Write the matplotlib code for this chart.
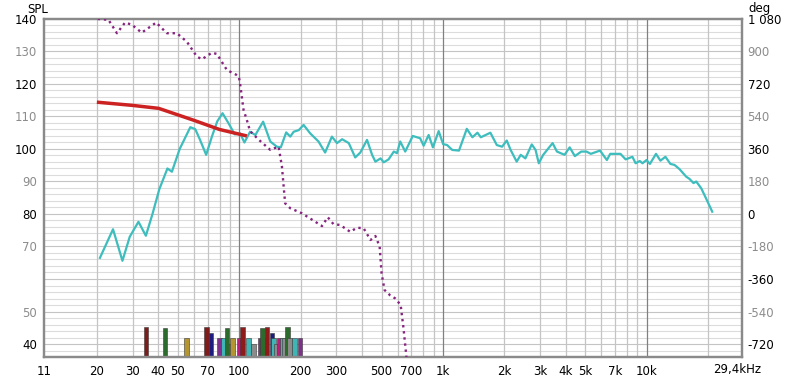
import matplotlib
matplotlib.use("Agg")
import matplotlib.pyplot as plt
import numpy as np

# ---- data ----
spl_freq = [20.7, 24.0, 26.7, 29.0, 32.0, 34.8, 37.5, 40.5, 44.4, 46.7, 51.0, 57.5, 60.8, 64.0,
            68.8, 73.4, 78.0, 82.8, 88.6, 95.0, 101, 106, 113, 120, 131, 142, 153, 160, 170, 178,
            185, 196, 207, 223, 245, 264, 285, 302, 320, 345, 371, 393, 424, 449, 466, 494, 512,
            541, 574, 595, 617, 653, 711, 773, 804, 851, 893, 953, 1002, 1049, 1111, 1199, 1310,
            1395, 1477, 1535, 1710, 1839, 1952, 2058, 2150, 2302, 2410, 2540, 2730, 2850, 2955,
            3107, 3455, 3630, 3954, 4191, 4443, 4778, 5067, 5320, 5905, 6382, 6627, 7440, 7889,
            8518, 8831, 9251, 9546, 9987, 10380, 11120, 11690, 12370, 13090, 13700, 14510,
            15630, 16230, 17000, 17520, 18550, 19750, 21000]
spl_db = [66.5, 75.3, 65.6, 73.0, 77.6, 73.3, 80.0, 87.6, 94.0, 93.0, 100.0, 106.7, 106.1, 103.0,
          98.2, 103.8, 108.5, 111.0, 107.9, 104.5, 104.8, 102.0, 105.3, 104.3, 108.4, 102.3,
          100.7, 100.5, 105.1, 103.8, 105.3, 105.8, 107.4, 104.8, 102.3, 98.9, 103.8, 101.8,
          103.0, 101.8, 97.4, 98.9, 102.8, 98.2, 96.1, 97.1, 95.9, 96.8, 99.2, 98.7, 102.3, 99.2,
          104.0, 103.3, 101.0, 104.3, 100.5, 105.5, 101.5, 101.2, 99.7, 99.5, 106.2, 103.6, 105.0,
          103.6, 105.0, 101.2, 100.7, 102.6, 99.7, 96.1, 98.2, 97.1, 101.4, 99.7, 95.6, 98.2,
          101.8, 99.2, 98.2, 100.5, 97.8, 99.2, 99.2, 98.5, 99.5, 96.6, 98.5, 98.5, 96.8, 97.6,
          95.6, 96.3, 95.6, 96.6, 95.4, 98.5, 96.4, 97.6, 95.4, 95.1, 93.8, 91.5, 90.8, 89.5, 90.0,
          87.9, 84.3, 80.7]

red_freq = [20.0, 30.0, 40.2, 60.0, 80.0, 109.0]
red_db = [114.4, 113.4, 112.5, 108.8, 106.0, 104.0]

phase_freq = [20.2, 22.8, 25.1, 27.5, 29.7, 33.2, 39.1, 44.1, 49.4, 55.3, 62.0, 65.6, 73.4, 77.7,
              87.0, 97.0, 99.5, 101, 105, 109, 113, 125, 142, 156, 162, 168, 178, 203, 228, 255,
              272, 290, 313, 351, 378, 408, 441, 466, 489, 500, 517, 550, 584, 620, 640, 662]
phase_deg = [1080, 1075, 1001, 1060, 1048, 1004, 1060, 1001, 1001, 954, 871, 857, 893, 886,
             797, 770, 761, 720, 576, 520, 459, 410, 355, 373, 263, 59, 32, 4, -32, -67,
             -18, -56, -61, -99, -76, -79, -144, -122, -180, -330, -421, -450, -468, -504, -630, -792]

bar_freq = [33.9, 42.0, 53.8, 67.3, 71.0, 78.2, 81.8, 84.7, 89.0, 90.3, 97.4, 101.1, 108.2, 114.5,
            123.0, 131.2, 126.8, 133.7, 140.9, 143.7, 148.6, 153.2, 159.1, 162.8, 168.3, 172.3,
            182.0, 193.2]
bar_top = [45.3, 44.8, 41.8, 45.3, 43.3, 41.8, 41.8, 44.8, 40.0, 41.8, 41.8, 45.3, 41.8, 40.0,
           41.8, 41.8, 44.8, 45.3, 43.3, 41.8, 40.0, 41.8, 41.8, 41.8, 45.3, 41.8, 41.8, 41.8]
bar_color = ["#7e1b1b", "#2b6b2b", "#b5952f", "#7e1b1b", "#1d1d80", "#7f2f8c", "#3fb5b5", "#2b6b2b",
             "#8c8c8c", "#b5952f", "#c2197a", "#8e1a1a", "#3fb5b5", "#8c8c8c", "#7f2f8c", "#b5952f",
             "#2b6b2b", "#8e1a1a", "#1d1d80", "#3fb5b5", "#8c8c8c", "#c2197a", "#3fb5b5", "#8c8c8c",
             "#2b6b2b", "#8c8c8c", "#3fb5b5", "#7f2f8c"]

x_ticks = [11, 20, 30, 40, 50, 70, 100, 200, 300, 500, 700, 1000, 2000, 3000, 4000, 5000, 7000, 10000]
x_labels = ["11", "20", "30", "40", "50", "70", "100", "200", "300", "500", "700", "1k", "2k", "3k",
            "4k", "5k", "7k", "10k"]
y_ticks = [140, 130, 120, 110, 100, 90, 80, 70, 50, 40]
deg_ticks = [1080, 900, 720, 540, 360, 180, 0, -180, -360, -540, -720]
deg_labels = ["1 080", "900", "720", "540", "360", "180", "0", "-180", "-360", "-540", "-720"]

# ---- figure ----
plt.rcParams['font.family'] = ['DejaVu Sans']
fig = plt.figure(figsize=(8.0, 3.82), dpi=100)
ax = fig.add_axes([0.055, 0.0654, 0.8725, 0.885])
ax.set_xscale('log')
ax.set_xlim(11, 29400)
ax.set_ylim(36, 140)

# grid
for y in range(36, 141, 2):
    c = "#c4c4c4" if y % 10 == 0 else "#dcdcdc"
    ax.axhline(y, color=c, lw=0.8, zorder=0)
vl = []
for dec in [10, 100, 1000, 10000]:
    for m in range(1, 10):
        f = dec * m
        if 11 < f < 29400:
            vl.append(f)
for f in vl:
    c = "#808080" if f in (100, 1000, 10000) else "#c4c4c4"
    ax.axvline(f, color=c, lw=0.9, zorder=0)

# bars
for f, t, c in zip(bar_freq, bar_top, bar_color):
    ax.bar(f, t - 36, bottom=36, width=f * 0.052, align='edge', color=c,
           edgecolor="#3a3a3a", linewidth=0.4, zorder=2)

ax.plot(spl_freq, spl_db, color="#3dbdbd", lw=1.6, zorder=4)
ax.plot(red_freq, red_db, color="#cc2222", lw=2.5, zorder=5, solid_capstyle='butt')

ax2 = ax.twinx()
ax2.set_ylim(-792, 1080)
ax2.plot(phase_freq, phase_deg, color="#86247f", lw=1.7, ls=(0, (1, 1.6)), zorder=3)

for a in (ax, ax2):
    for s in a.spines.values():
        s.set_color("#8a8a8a")
        s.set_linewidth(1.6)
    a.tick_params(length=0)

ax.set_xticks(x_ticks)
ax.set_xticklabels(x_labels, fontsize=8.5)
ax.xaxis.set_minor_locator(matplotlib.ticker.NullLocator())
ax.tick_params(axis='x', pad=6)
ax.set_yticks(y_ticks)
ax.set_yticklabels([str(v) for v in y_ticks], fontsize=8.5)
for lab, v in zip(ax.get_yticklabels(), y_ticks):
    lab.set_color("#000000" if v % 20 == 0 else "#8c8c8c")
ax.tick_params(axis='y', pad=5)

ax2.set_yticks(deg_ticks)
ax2.set_yticklabels(deg_labels, fontsize=8.5)
for lab, v in zip(ax2.get_yticklabels(), deg_ticks):
    lab.set_color("#000000" if v % 360 == 0 else "#8c8c8c")
ax2.tick_params(axis='y', pad=4)

fig.text(0.034, 0.975, "SPL", fontsize=8.5, ha='left', va='center')
fig.text(0.935, 0.978, "deg", fontsize=8.5, ha='left', va='center')
fig.text(0.921, 0.033, "29,4kHz", fontsize=8.5, ha='center', va='center')

fig.savefig("out.png", dpi=100)
